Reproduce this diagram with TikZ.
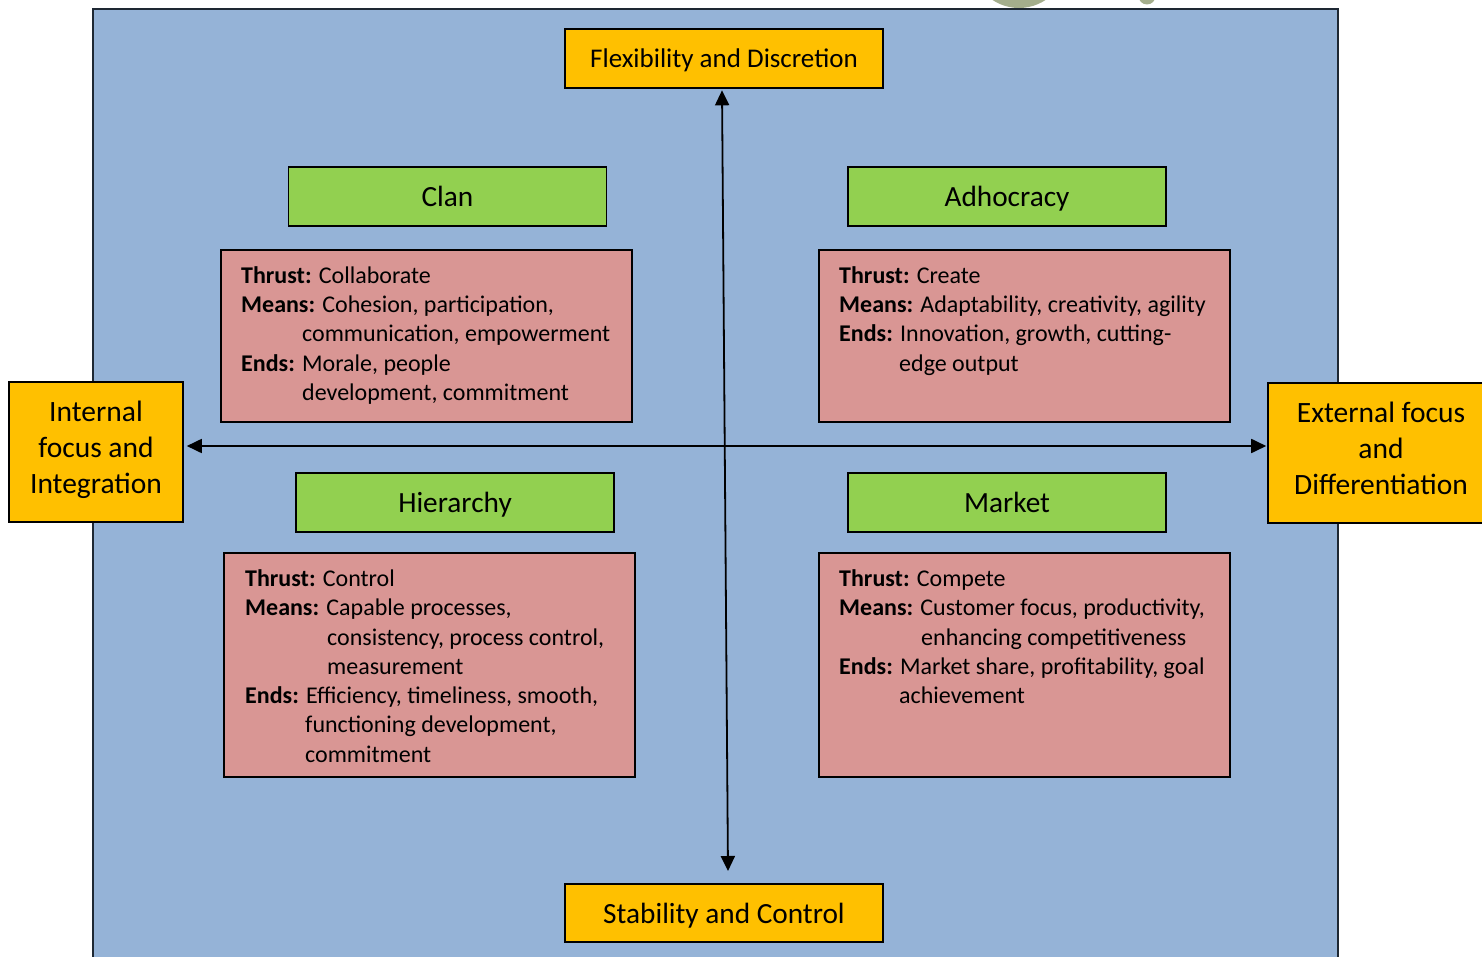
\documentclass[tikz,border=0pt]{standalone}
\usepackage{fontspec}
\setmainfont{Carlito}
\usetikzlibrary{arrows.meta}
\definecolor{bgblue}{HTML}{95B3D7}
\definecolor{axisyellow}{HTML}{FFC000}
\definecolor{typegreen}{HTML}{92D050}
\definecolor{notepink}{HTML}{D99694}
\definecolor{framedark}{HTML}{1E2833}
\definecolor{leafgrey}{HTML}{A4AE8C}
% indentation of a continued line
\newcommand{\ind}[1]{\hspace*{#1pt}}
% block of notes, first baseline at the node's base
\newcommand{\notes}[1]{\parbox[t]{400pt}{\raggedright\fontsize{24}{29.25}\selectfont #1}}
% shift a label vertically without changing its box
\newcommand{\nudge}[2]{\raisebox{#1}[\height][\depth]{#2}}
% three-line side label
\newcommand{\sidelabel}[1]{\nudge{2pt}{\begin{tabular}{@{}c@{}}#1\end{tabular}}}

\begin{document}
\begin{tikzpicture}[x=1pt,y=1pt,
  axisbox/.style={draw=black, line width=1.6pt, fill=axisyellow, inner sep=0pt,
    align=center, font=\fontsize{29.3}{36}\selectfont},
  sidebox/.style={axisbox, minimum height=140pt,
    font=\fontsize{29.5}{36}\selectfont\renewcommand{\arraystretch}{1}},
  typebox/.style={draw=black, line width=1.3pt, fill=typegreen, inner sep=0pt,
    minimum width=318pt, minimum height=59pt, font=\fontsize{29.3}{35}\selectfont},
  notebox/.style={draw=black, line width=1.3pt, fill=notepink, inner sep=0pt},
  notetext/.style={anchor=base west, inner sep=0pt},
  axisarrow/.style={line width=1.8pt,
    {Triangle[length=15pt,width=14pt]}-{Triangle[length=15pt,width=14pt]}}
]
\useasboundingbox (0,0) rectangle (1482,-957);

% fragments of artwork above the frame
\fill[leafgrey] (1019,39.9) circle (47.9);
\fill[leafgrey] (1147,4) circle (8.5);

% background panel
\filldraw[fill=bgblue, draw=framedark, line width=2pt] (93,-9) rectangle (1338,-970);

% axis end labels
\node[axisbox, minimum width=318pt, minimum height=59pt, font=\fontsize{27}{33}\selectfont] (flex) at (724,-58.5) {\nudge{-2pt}{Flexibility and Discretion}};
\node[axisbox, minimum width=318pt, minimum height=58pt] (stab) at (724,-913) {\nudge{-3pt}{Stability and Control}};
\node[sidebox, minimum width=174pt] (intl) at (96,-452) {\sidelabel{Internal\\focus and\\Integration}};
\node[sidebox, minimum width=226pt] (extl) at (1381,-453) {\sidelabel{External focus\\and\\Differentiation}};

% axes
\coordinate (vtop) at ([xshift=-2pt,yshift=-1.5pt]flex.south);
\coordinate (vbot) at (728,-871);
\draw[axisarrow] (vtop) -- (vbot);
\draw[axisarrow, shorten <=3pt, shorten >=1pt] ([yshift=6pt]intl.east) -- ([yshift=7pt]extl.west);

% culture types
\node[typebox] (clan) at (447.5,-196.5) {Clan};
\node[typebox] (adho) at (1007,-196.5) {\nudge{-2pt}{Adhocracy}};
\node[typebox] (hier) at (455,-502.5) {\nudge{-2pt}{Hierarchy}};
\node[typebox] (mark) at (1007,-502.5) {Market};

% description boxes
\node[notebox, minimum width=411pt, minimum height=172pt] (clanb) at (426.5,-336) {};
\node[notebox, minimum width=411pt, minimum height=172pt] (adhob) at (1024.5,-336) {};
\node[notebox, minimum width=411pt, minimum height=224pt] (hierb) at (429.5,-665) {};
\node[notebox, minimum width=411pt, minimum height=224pt] (markb) at (1024.5,-665) {};

\node[notetext] (clant) at (241,-283.5) {\notes{%
  \textbf{Thrust:} Collaborate\\
  \textbf{Means:} Cohesion, participation,\\
  \ind{61}communication, empowerment\\
  \textbf{Ends:} Morale, people\\
  \ind{61}development, commitment}};

\node[notetext] (adhot) at (839,-283.5) {\notes{%
  \textbf{Thrust:} Create\\
  \textbf{Means:} Adaptability, creativity, agility\\
  \textbf{Ends:} Innovation, growth, cutting-\\
  \ind{60}edge output}};

\node[notetext] (hiert) at (245,-586.5) {\notes{%
  \textbf{Thrust:} Control\\
  \textbf{Means:} Capable processes,\\
  \ind{82}consistency, process control,\\
  \ind{82}measurement\\
  \textbf{Ends:} Efficiency, timeliness, smooth,\\
  \ind{60}functioning development,\\
  \ind{60}commitment}};

\node[notetext] (markt) at (839,-586.5) {\notes{%
  \textbf{Thrust:} Compete\\
  \textbf{Means:} Customer focus, productivity,\\
  \ind{82}enhancing competitiveness\\
  \textbf{Ends:} Market share, profitability, goal\\
  \ind{60}achievement}};
\end{tikzpicture}
\end{document}
